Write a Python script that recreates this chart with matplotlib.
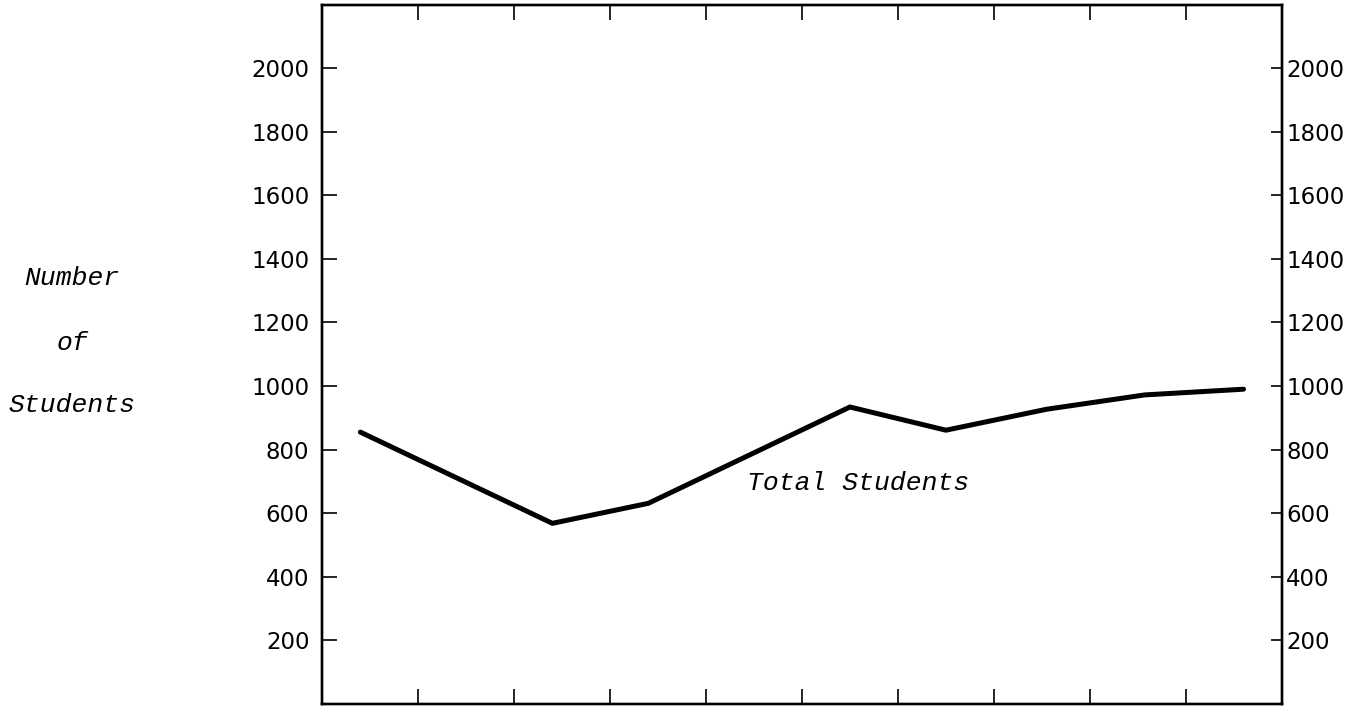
import matplotlib.pyplot as plt

# yearly enrolment
years = [0.4, 2.4, 3.4, 5.5, 6.5, 7.55, 8.57, 9.6]
total_students = [855, 568, 631, 934, 861, 927, 972, 990]

y_ticks = [200, 400, 600, 800, 1000, 1200, 1400, 1600, 1800, 2000]
x_ticks = [1, 2, 3, 4, 5, 6, 7, 8, 9]

label_font = "Liberation Mono"
num_font = "DejaVu Sans"

fig = plt.figure(figsize=(13.7, 7.06), dpi=100)
ax = fig.add_axes([0.235, 0.003, 0.7007, 0.9905])

ax.plot(years, total_students, color="black", lw=3.6, solid_capstyle="round",
        solid_joinstyle="round")

ax.set_xlim(0, 10)
ax.set_ylim(0, 2200)

ax.set_xticks(x_ticks)
ax.set_xticklabels([])
ax.set_yticks(y_ticks)
ax.set_yticklabels([str(v) for v in y_ticks], fontsize=16.5, family=num_font)

ax.tick_params(axis="x", direction="in", length=11, width=1.2, top=True, bottom=True)
ax.tick_params(axis="y", direction="in", length=11, width=1.2, left=True, right=False,
               pad=9)

# right-hand scale sits tight against the frame
ax2 = ax.twinx()
ax2.set_ylim(ax.get_ylim())
ax2.set_yticks(y_ticks)
ax2.set_yticklabels([str(v) for v in y_ticks], fontsize=16.5, family=num_font)
ax2.tick_params(axis="y", direction="in", length=8, width=1.2, pad=3)

for a in (ax, ax2):
    for s in a.spines.values():
        s.set_linewidth(1.7)

ax.text(4.43, 694, "Total Students", fontsize=19, style="italic", family=label_font,
        va="center", ha="left")

fig.text(72 / 1370, 1 - 278 / 706, "Number", fontsize=19, style="italic",
         family=label_font, ha="center", va="center")
fig.text(72 / 1370, 1 - 343 / 706, "of", fontsize=19, style="italic",
         family=label_font, ha="center", va="center")
fig.text(72 / 1370, 1 - 405 / 706, "Students", fontsize=19, style="italic",
         family=label_font, ha="center", va="center")

plt.savefig("out.png", dpi=100)
